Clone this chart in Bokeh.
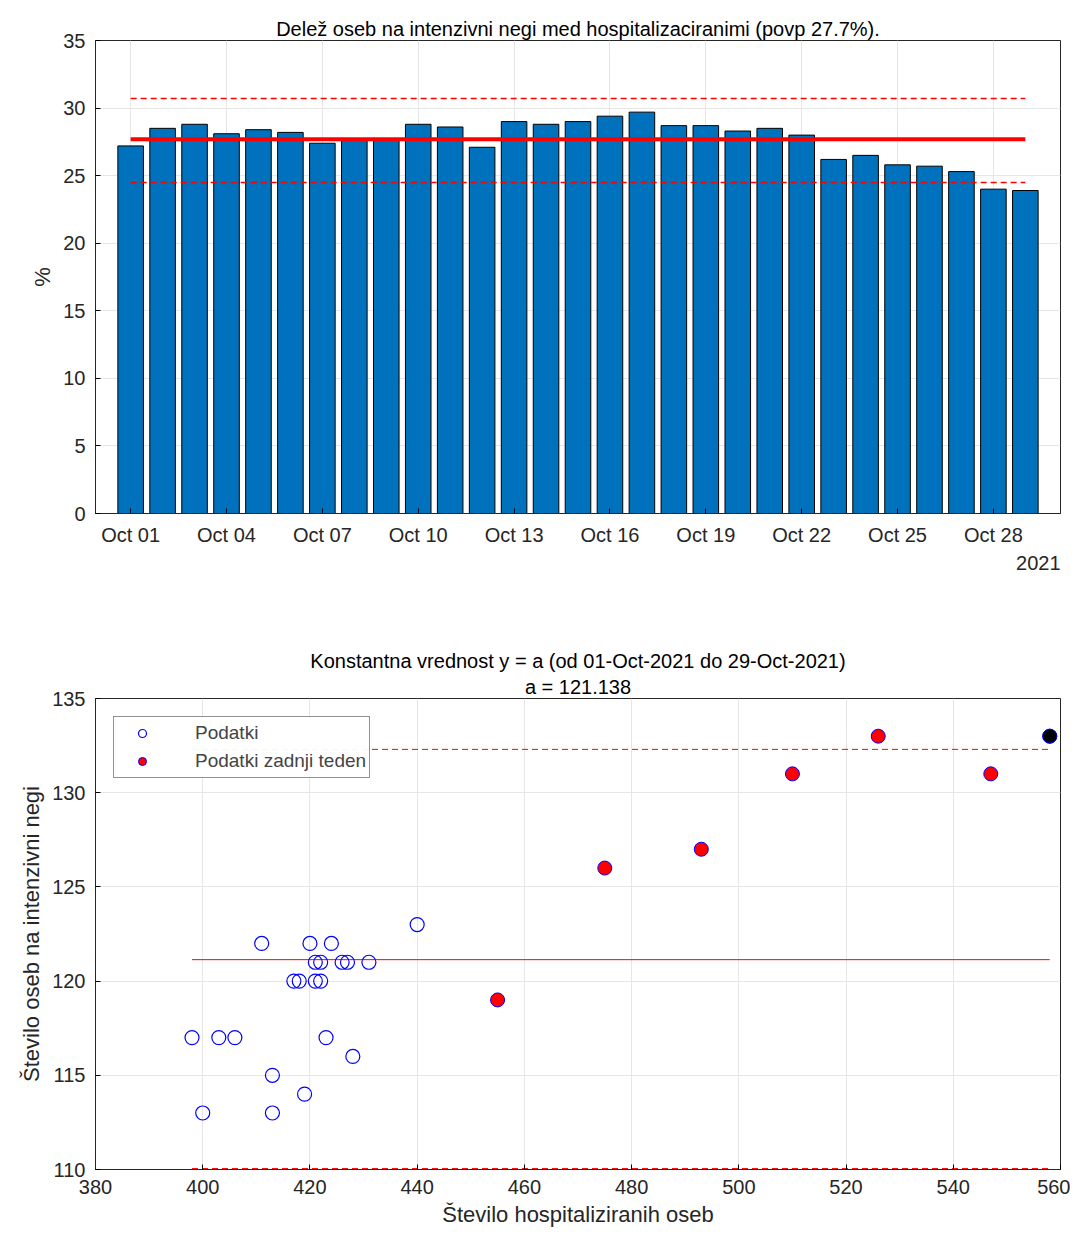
import numpy as np
from bokeh.layouts import column
from bokeh.models import ColumnDataSource, FixedTicker, Title, Range1d, Spacer
from bokeh.plotting import figure
from bokeh.embed import file_html
from bokeh.resources import INLINE

# top chart: share of ICU patients among hospitalised, October 2021
days = list(range(1, 30))
share = [27.2, 28.5, 28.8, 28.1, 28.4, 28.2, 27.4, 27.7, 27.7, 28.8, 28.6, 27.1, 29.0, 28.8,
         29.0, 29.4, 29.7, 28.7, 28.7, 28.3, 28.5, 28.0, 26.2, 26.5, 25.8, 25.7, 25.3, 24.0, 23.9]
share_mean = 27.7
share_hi = 30.7
share_lo = 24.5
tick_days = [1, 4, 7, 10, 13, 16, 19, 22, 25, 28]
tick_labels = {d: "Oct %02d" % d for d in tick_days}

# bottom chart: hospitalised vs ICU
hosp = [398, 400, 403, 406, 411, 413, 413, 417, 418, 419, 420, 421, 422, 421, 422,
        423, 424, 426, 427, 428, 431, 440]
icu = [117, 113, 117, 117, 122, 115, 113, 120, 120, 114, 122, 121, 121, 120, 120,
       117, 122, 121, 121, 116, 121, 123]
hosp_last = [455, 475, 493, 510, 526, 547, 558]
icu_last = [119, 126, 127, 131, 133, 131, 133]
a_fit = 121.138
band_hi = 132.3
band_lo = 110.05

FONT = "Liberation Sans"
TXT = "#262626"


def style(p):
    for ax in p.axis:
        ax.major_label_text_font = FONT
        ax.major_label_text_font_size = "20px"
        ax.axis_label_text_font = FONT
        ax.axis_label_text_font_size = "22px"
        ax.axis_label_text_font_style = "normal"
        ax.axis_label_text_color = TXT
        ax.minor_tick_line_color = None
        ax.major_tick_in = 5
        ax.major_tick_out = 0
        ax.major_label_standoff = 10
        ax.axis_line_color = TXT
        ax.major_label_text_color = TXT
    p.outline_line_color = TXT
    p.grid.grid_line_color = "#e6e6e6"
    p.min_border_right = 10
    p.min_border_left = 95


def title(text):
    return Title(text=text, align="center", text_font=FONT, text_font_size="20px",
                 text_font_style="normal", text_color="black", standoff=2)


p1 = figure(width=1070, height=574, x_range=Range1d(-0.1, 30.1), y_range=Range1d(0, 35),
            output_backend="svg", toolbar_location=None)
p1.add_layout(title("Delež oseb na intenzivni negi med hospitalizaciranimi (povp 27.7%)."), "above")
p1.vbar(x=days, top=share, width=0.8, fill_color="#0072bd", line_color="black")
p1.line([days[0], days[-1]], [share_mean] * 2, line_color="red", line_width=4)
p1.line([days[0], days[-1]], [share_hi] * 2, line_color="red", line_width=1.5, line_dash="6 4")
p1.line([days[0], days[-1]], [share_lo] * 2, line_color="red", line_width=1.5, line_dash="6 4")
p1.xaxis.ticker = FixedTicker(ticks=tick_days)
p1.xaxis.major_label_overrides = tick_labels
p1.yaxis.ticker = FixedTicker(ticks=list(range(0, 36, 5)))
p1.yaxis.axis_label = "%"
p1.add_layout(Title(text="2021", align="right", text_font=FONT, text_font_size="20px",
                    text_font_style="normal", text_color=TXT), "below")
style(p1)
p1.min_border_top = 40

p2 = figure(width=1070, height=583, x_range=Range1d(380, 560), y_range=Range1d(110, 135),
            output_backend="svg", toolbar_location=None)
p2.add_layout(title("a = 121.138"), "above")
p2.add_layout(title("Konstantna vrednost y = a (od 01-Oct-2021 do 29-Oct-2021)"), "above")
xs = [min(hosp), max(hosp_last)]
p2.line(xs, [a_fit] * 2, line_color="red", line_width=1)
p2.line(xs, [band_hi] * 2, line_color="red", line_width=1, line_dash="6 4")
p2.line(xs, [band_lo] * 2, line_color="red", line_width=1, line_dash="6 4")
p2.scatter(hosp, icu, size=14, fill_color=None, line_color="blue", line_width=1.2,
           legend_label="Podatki")
p2.scatter(hosp_last, icu_last, size=14, fill_color="red", line_color="blue", line_width=1,
           legend_label="Podatki zadnji teden")
p2.scatter([hosp_last[-1]], [icu_last[-1]], size=14, fill_color="black", line_color="blue",
           line_width=1)
p2.xaxis.ticker = FixedTicker(ticks=list(range(380, 561, 20)))
p2.yaxis.ticker = FixedTicker(ticks=list(range(110, 136, 5)))
p2.xaxis.axis_label = "Število hospitaliziranih oseb"
p2.yaxis.axis_label = "Število oseb na intenzivni negi"
p2.legend.location = "top_left"
p2.legend.label_text_font = FONT
p2.legend.label_text_font_size = "19px"
p2.legend.border_line_color = TXT
p2.legend.margin = 18
p2.legend.spacing = 2
p2.legend.padding = 3
p2.legend.glyph_width = 50
p2.legend.label_standoff = 28
p2.legend.label_height = 26
style(p2)

p = column(p1, Spacer(height=72), p2)
open("out.html", "w").write(file_html(p, INLINE))
